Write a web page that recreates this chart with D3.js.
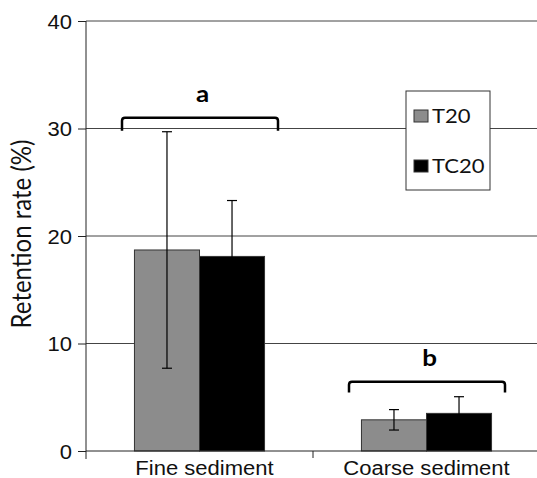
<!DOCTYPE html>
<html>
<head>
<meta charset="utf-8">
<script src="https://cdn.jsdelivr.net/npm/d3@7"></script>
<style>
  body { margin: 0; background: #fff; }
  svg { display: block; }
</style>
</head>
<body>
<svg id="chart" width="537" height="478"></svg>
<script>
// data
var categories = ["Fine sediment", "Coarse sediment"];
var series = ["T20", "TC20"];
var t20 = [18.7, 2.9];
var t20Err = [11.0, 0.95];
var tc20 = [18.1, 3.5];
var tc20Err = [5.2, 1.55];
var yTicks = [0, 10, 20, 30, 40];
var groupLetters = ["a", "b"];
var bracketTop = [31.0, 6.45];
var bracketEnd = [29.8, 5.45];
var letterY = [32.5, 7.9];

var colors = { "T20": "#8c8c8c", "TC20": "#000000" };
var sx = 1.13; // text in the figure is a bit wider than tall

var svg = d3.select("#chart");

var x = d3.scaleBand().domain(categories).range([86, 540]).padding(0);
var x1 = d3.scaleBand().domain(series).range([0, x.bandwidth()]).paddingInner(0).paddingOuter(0.745);
var y = d3.scaleLinear().domain([0, 40]).range([451, 21]);

// gridlines
svg.append("g").selectAll("line")
  .data(yTicks.filter(function(d) { return d > 0; }))
  .enter().append("line")
  .attr("x1", 86).attr("x2", 540)
  .attr("y1", function(d) { return y(d); })
  .attr("y2", function(d) { return y(d); })
  .attr("stroke", "#444").attr("stroke-width", 1);

// y axis
var yAxis = svg.append("g")
  .attr("transform", "translate(86,0)")
  .call(d3.axisLeft(y).tickValues(yTicks).tickSize(8).tickFormat(d3.format("d")));
yAxis.select(".domain").remove();
yAxis.selectAll(".tick line").attr("stroke", "#222");
yAxis.selectAll(".tick text").remove();
yAxis.selectAll(".tick").append("text")
  .attr("transform", "translate(-14,0) scale(" + sx + ",1)")
  .attr("text-anchor", "end")
  .attr("dy", "0.36em")
  .style("font-family", "'Liberation Sans', Arial, sans-serif")
  .style("font-size", "19.5px")
  .attr("fill", "#111")
  .text(function(d) { return d; });
svg.append("line")
  .attr("x1", 86).attr("x2", 86)
  .attr("y1", y(40)).attr("y2", 459)
  .attr("stroke", "#222").attr("stroke-width", 1);

// bars
var rows = categories.map(function(c, i) {
  return [
    { cat: c, s: "T20", v: t20[i], e: t20Err[i] },
    { cat: c, s: "TC20", v: tc20[i], e: tc20Err[i] }
  ];
});
var groups = svg.append("g").selectAll("g")
  .data(rows).enter().append("g")
  .attr("transform", function(d, i) { return "translate(" + x(categories[i]) + ",0)"; });

groups.selectAll("rect")
  .data(function(d) { return d; })
  .enter().append("rect")
  .attr("x", function(d) { return x1(d.s); })
  .attr("y", function(d) { return y(d.v); })
  .attr("width", x1.bandwidth())
  .attr("height", function(d) { return y(0) - y(d.v); })
  .attr("fill", function(d) { return colors[d.s]; })
  .attr("stroke", "#333").attr("stroke-width", 1);

// error bars
var eb = groups.selectAll("g.err")
  .data(function(d) { return d; })
  .enter().append("g").attr("class", "err")
  .attr("stroke", "#000").attr("stroke-width", 1.2);
eb.append("line")
  .attr("x1", function(d) { return x1(d.s) + x1.bandwidth() / 2; })
  .attr("x2", function(d) { return x1(d.s) + x1.bandwidth() / 2; })
  .attr("y1", function(d) { return y(d.v + d.e); })
  .attr("y2", function(d) { return y(d.v - d.e); });
[1, -1].forEach(function(sign) {
  eb.append("line")
    .attr("x1", function(d) { return x1(d.s) + x1.bandwidth() / 2 - 5; })
    .attr("x2", function(d) { return x1(d.s) + x1.bandwidth() / 2 + 5; })
    .attr("y1", function(d) { return y(d.v + sign * d.e); })
    .attr("y2", function(d) { return y(d.v + sign * d.e); });
});

// x axis
var xAxis = svg.append("g")
  .attr("transform", "translate(0," + y(0) + ")");
xAxis.append("line")
  .attr("x1", 86).attr("x2", 540)
  .attr("stroke", "#222").attr("stroke-width", 1);
xAxis.selectAll("line.tk")
  .data(categories.slice(1)).enter().append("line").attr("class", "tk")
  .attr("x1", function(d) { return x(d); })
  .attr("x2", function(d) { return x(d); })
  .attr("y1", 0).attr("y2", 7)
  .attr("stroke", "#222");
xAxis.selectAll("text")
  .data(categories).enter().append("text")
  .attr("transform", function(d, i) {
    return "translate(" + (x(d) + x.bandwidth() / 2 + (i === 0 ? 5 : 0)) + ",24) scale(" + sx + ",1)";
  })
  .attr("text-anchor", "middle")
  .style("font-family", "'Liberation Sans', Arial, sans-serif")
  .style("font-size", "19.5px")
  .attr("fill", "#111")
  .text(function(d) { return d; });

// y title
svg.append("text")
  .attr("transform", "translate(31,234) scale(" + sx + ",1) rotate(-90)")
  .attr("text-anchor", "middle")
  .style("font-family", "Lato, sans-serif")
  .style("font-size", "24px")
  .attr("fill", "#111")
  .text("Retention rate (%)");

// significance brackets
var br = svg.append("g").selectAll("g")
  .data(categories).enter().append("g");
br.append("path")
  .attr("d", function(d, i) {
    var x0 = x(d) + 36, xe = x(d) + x.bandwidth() - 35;
    var yt = y(bracketTop[i]), yb = y(bracketEnd[i]), r = 3;
    return "M" + x0 + "," + yb + "L" + x0 + "," + (yt + r) +
      "Q" + x0 + "," + yt + " " + (x0 + r) + "," + yt +
      "L" + (xe - r) + "," + yt +
      "Q" + xe + "," + yt + " " + xe + "," + (yt + r) +
      "L" + xe + "," + yb;
  })
  .attr("fill", "none").attr("stroke", "#000").attr("stroke-width", 2.5);
br.append("text")
  .attr("transform", function(d, i) {
    return "translate(" + (x(d) + x.bandwidth() / 2 + 3) + "," + y(letterY[i]) + ") scale(" + sx + ",1)";
  })
  .attr("text-anchor", "middle")
  .style("font-family", "Lato, sans-serif")
  .style("font-weight", "bold")
  .style("font-size", "23px")
  .attr("fill", "#000")
  .text(function(d, i) { return groupLetters[i]; });

// legend
var legend = svg.append("g").attr("transform", "translate(406,91)");
legend.append("rect")
  .attr("width", 84).attr("height", 99)
  .attr("fill", "#fff").attr("stroke", "#333").attr("stroke-width", 1);
var li = legend.selectAll("g.item")
  .data(series).enter().append("g").attr("class", "item")
  .attr("transform", function(d, i) { return "translate(8," + (19 + i * 50) + ")"; });
li.append("rect")
  .attr("width", 14).attr("height", 12)
  .attr("fill", function(d) { return colors[d]; })
  .attr("stroke", "#333").attr("stroke-width", 1);
li.append("text")
  .attr("transform", "translate(18,12.5) scale(" + sx + ",1)")
  .style("font-family", "Lato, sans-serif")
  .style("font-size", "19.5px")
  .attr("fill", "#111")
  .text(function(d) { return d; });
</script>
</body>
</html>
